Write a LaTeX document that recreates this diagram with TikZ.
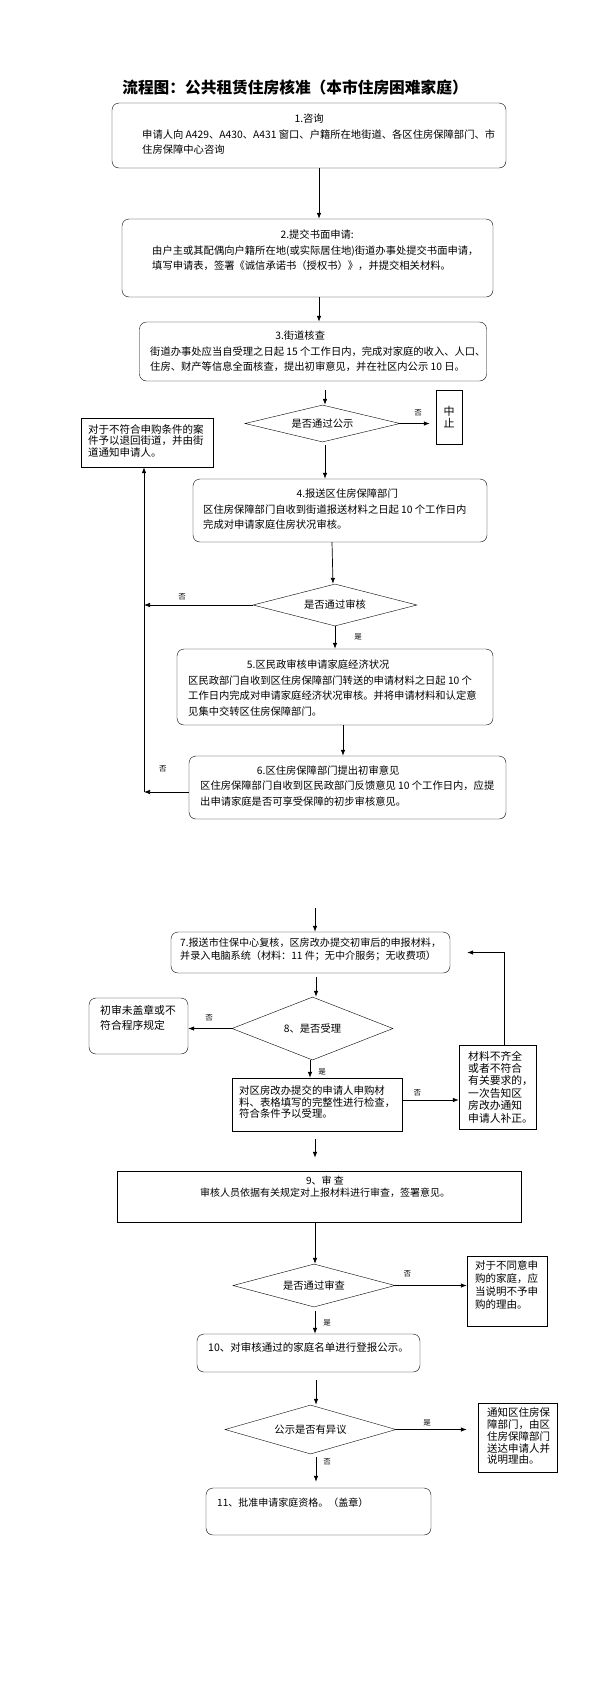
\documentclass[tikz,border=0pt]{standalone}
\usepackage{fontspec}
\setmainfont{Noto Sans CJK SC}
\usepackage{tikz}
\usetikzlibrary{arrows.meta,positioning,calc,shapes.geometric}

\begin{document}
\begin{tikzpicture}[
  x=1pt, y=-1pt,
  stepbox/.style={draw, rounded corners=7pt, inner sep=0pt},
  plainbox/.style={draw, inner sep=0pt},
  decision/.style={draw, diamond, aspect=4, inner sep=0pt, font=\fontsize{10.3}{12}\selectfont},
  body/.style={anchor=west, align=left, inner sep=0pt, font=\fontsize{10.3}{15.5}\selectfont},
  side/.style={anchor=west, align=left, inner sep=0pt, font=\fontsize{10.5}{12}\selectfont},
  line/.style={-{Latex[length=6pt,width=4.5pt]}, line width=0.7pt},
  note/.style={font=\fontsize{7.5}{8}\selectfont, inner sep=0pt}
]
\useasboundingbox (0,0) rectangle (596,1684);

\node[font=\bfseries\fontsize{15.7}{18}\selectfont] (title) at (295,88) {流程图：公共租赁住房核准（本市住房困难家庭）};

% upper part: steps 1-6
\node[stepbox, minimum width=394pt, minimum height=65pt] (s1) at (309,135.5) {};
\node[body] (s1txt) at (142,134.5) {\hspace*{167pt}\makebox[0pt]{1.咨询}\\
  申请人向 A429、A430、A431 窗口、户籍所在地街道、各区住房保障部门、市\\
  住房保障中心咨询};
\node[stepbox, minimum width=371pt, minimum height=78pt] (s2) at (307.5,258) {};
\node[body] (s2txt) at (152,250.5) {\hspace*{165pt}\makebox[0pt]{2.提交书面申请:}\\
  由户主或其配偶向户籍所在地(或实际居住地)街道办事处提交书面申请，\\
  填写申请表，签署《诚信承诺书（授权书）》，并提交相关材料。};
\node[stepbox, minimum width=347pt, minimum height=59pt] (s3) at (313,351.5) {};
\node[body] (s3txt) at (150,351.5) {\hspace*{150pt}\makebox[0pt]{3.街道核查}\\
  街道办事处应当自受理之日起 15 个工作日内，完成对家庭的收入、人口、\\
  住房、财产等信息全面核查，提出初审意见，并在社区内公示 10 日。};
\node[decision, minimum width=155pt, minimum height=37pt] (d1) at (322.5,423.5) {是否通过公示};
\node[plainbox, minimum width=26pt, minimum height=54pt, align=center,
  font=\fontsize{11}{11.5}\selectfont] (stop) at (449,417) {中\\止};
\node[plainbox, minimum width=132pt, minimum height=49pt] (rej1) at (147,442.5) {};
\node[side, font=\fontsize{10.5}{11.5}\selectfont] (rej1txt) at (88,440.5) {对于不符合申购条件的案\\
  件予以退回街道，并由街\\道通知申请人。};
\node[stepbox, minimum width=294pt, minimum height=63pt] (s4) at (340,510.5) {};
\node[body] (s4txt) at (203,509.5) {\hspace*{144pt}\makebox[0pt]{4.报送区住房保障部门}\\
  区住房保障部门自收到街道报送材料之日起 10 个工作日内\\
  完成对申请家庭住房状况审核。};
\node[decision, minimum width=164pt, minimum height=42pt] (d2) at (335,605) {是否通过审核};
\node[stepbox, minimum width=316pt, minimum height=76pt] (s5) at (335,687) {};
\node[body] (s5txt) at (188,688) {\hspace*{130pt}\makebox[0pt]{5.区民政审核申请家庭经济状况}\\
  区民政部门自收到区住房保障部门转送的申请材料之日起 10 个\\
  工作日内完成对申请家庭经济状况审核。并将申请材料和认定意\\
  见集中交转区住房保障部门。};
\node[stepbox, minimum width=317pt, minimum height=63pt] (s6) at (347.5,787.5) {};
\node[body] (s6txt) at (200,786) {\hspace*{128pt}\makebox[0pt]{6.区住房保障部门提出初审意见}\\
  区住房保障部门自收到区民政部门反馈意见 10 个工作日内，应提\\
  出申请家庭是否可享受保障的初步审核意见。};
\coordinate (back) at (144,792);

\draw[line] ([xshift=10pt]s1.south) -- ([xshift=11.5pt]s2.north);
\draw[line] ([xshift=11.5pt]s2.south) -- ([xshift=6pt]s3.north);
\draw[line, shorten <=9pt] ([xshift=12pt]s3.south) -- ([xshift=2.5pt]d1.north);
\draw[line, shorten >=6pt] (d1.east) -- node[note, above=7pt] {否} (d1.east -| stop.west);
\draw[line, shorten <=3pt] ([xshift=2.5pt]d1.south) -- ([xshift=-15pt]s4.north);
\draw[line] ([xshift=-8pt]s4.south) -- ([xshift=-2pt]d2.north);
\draw[line] (d2.west) -- node[note, above=5pt, pos=0.65] {否} (d2.west -| back);
\draw[line] (d2.south) -- node[note, right=19pt, pos=0.48] {是} (s5.north);
\draw[line] ([xshift=8pt]s5.south) -- ([xshift=-4.5pt]s6.north);
\draw[line] (s6.west |- back) -- node[note, above=20pt, pos=0.58] {否} (back);
\draw[line] (back) -- (back |- rej1.south);

% lower part: steps 7-11
\coordinate (top7) at (315,908);
\node[stepbox, minimum width=279pt, minimum height=41pt] (s7) at (310.5,952.5) {};
\node[body, font=\fontsize{10.1}{13}\selectfont] (s7txt) at (180,949.5) {7.报送市住保中心复核，区房改办提交初审后的申报材料，\\
  并录入电脑系统（材料：11 件；无中介服务；无收费项）};
\node[decision, minimum width=161pt, minimum height=63pt] (d3) at (312.5,1028.5) {8、是否受理};
\node[stepbox, minimum width=99pt, minimum height=56pt] (rej2) at (138.5,1026) {};
\node[side, font=\fontsize{10.8}{15}\selectfont] (rej2txt) at (100,1017.5) {初审未盖章或不\\符合程序规定};
\node[plainbox, minimum width=170pt, minimum height=53pt] (chk) at (317,1104.5) {};
\node[side, font=\fontsize{10.4}{11.5}\selectfont] (chktxt) at (239,1102.5) {对区房改办提交的申请人申购材\\
  料、表格填写的完整性进行检查，\\符合条件予以受理。};
\node[plainbox, minimum width=77pt, minimum height=84pt] (fix) at (497.5,1087) {};
\node[side, font=\fontsize{10.8}{12.4}\selectfont] (fixtxt) at (468,1087) {材料不齐全\\或者不符合\\有关要求的，\\
  一次告知区\\房改办通知\\申请人补正。};
\node[plainbox, minimum width=404pt, minimum height=51pt] (s9) at (319,1196.5) {};
\node[align=center, inner sep=0pt, font=\fontsize{10}{12}\selectfont] (s9txt) at (325,1187) {9、审\ 查\\
  审核人员依据有关规定对上报材料进行审查，签署意见。};
\node[decision, minimum width=162pt, minimum height=43pt] (d4) at (314,1285.5) {是否通过审查};
\node[plainbox, minimum width=80pt, minimum height=70pt] (nogo) at (507,1291) {};
\node[side, font=\fontsize{10.5}{13}\selectfont] (nogotxt) at (475,1284.5) {对于不同意申\\购的家庭，应\\
  当说明不予申\\购的理由。};
\node[stepbox, minimum width=223pt, minimum height=38pt] (s10) at (308.5,1353) {};
\node[side] (s10txt) at (208,1347) {10、对审核通过的家庭名单进行登报公示。};
\node[decision, minimum width=171pt, minimum height=49pt] (d5) at (310.5,1429.5) {公示是否有异议};
\node[plainbox, minimum width=79pt, minimum height=69pt] (notify) at (517.5,1437.5) {};
\node[side, font=\fontsize{10.5}{11.75}\selectfont] (notifytxt) at (487,1436.5) {通知区住房保\\障部门，由区\\
  住房保障部门\\送达申请人并\\说明理由。};
\node[stepbox, minimum width=225pt, minimum height=47pt] (s11) at (318.5,1511.5) {};
\node[side, font=\fontsize{10}{12}\selectfont] (s11txt) at (217,1503) {11、批准申请家庭资格。（盖章）};

\draw[line] (top7) -- (top7 |- s7.north);
\draw[line, shorten <=4pt] ([xshift=5.5pt]s7.south) -- ([xshift=3.5pt]d3.north);
\draw[line] (d3.west) -- node[note, above=7pt, pos=0.52] {否} (d3.west -| rej2.east);
\draw[line] ([xshift=-2.5pt]d3.south) -- node[note, right=8pt, pos=0.67] {是} ([xshift=-7pt]chk.north);
\draw[line] ([yshift=4.5pt]chk.east) -- node[note, above=4pt, pos=0.27] {否} ([yshift=4.5pt]chk.east -| fix.west);
\draw[line, shorten >=17pt] ([xshift=6.5pt]fix.north) |- (s7.east);
\draw[line, shorten <=8pt, shorten >=13pt] ([xshift=-2pt]chk.south) -- ([xshift=-4pt]s9.north);
\draw[line] ([xshift=-4pt]s9.south) -- ([xshift=1pt]d4.north);
\draw[line] (d4.east) -- node[note, above=8pt, pos=0.17] {否} (d4.east -| nogo.west);
\draw[line, shorten <=4pt] ([xshift=1pt]d4.south) -- node[note, right=8pt, pos=0.6] {是} ([xshift=6.5pt]s10.north);
\draw[line, shorten <=8pt] ([xshift=7.5pt]s10.south) -- ([xshift=5.5pt]d5.north);
\draw[line, shorten >=11pt] (d5.east) -- node[note, above=3pt, pos=0.38] {是} (d5.east -| notify.west);
\draw[line, shorten <=3pt, shorten >=6pt] ([xshift=5.5pt]d5.south) -- node[note, right=7pt, pos=0.24] {否} ([xshift=-2.5pt]s11.north);
\end{tikzpicture}
\end{document}
